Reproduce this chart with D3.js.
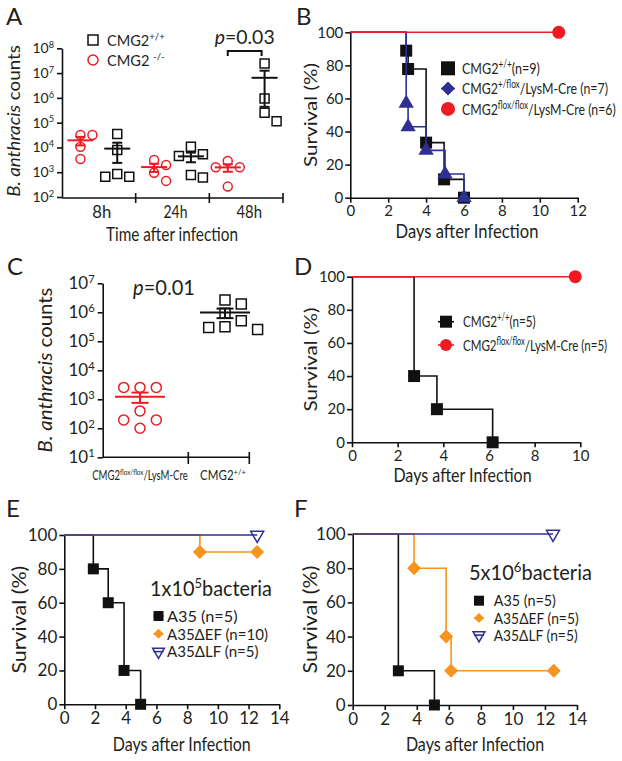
<!DOCTYPE html>
<html>
<head>
<meta charset="utf-8">
<script src="https://cdn.jsdelivr.net/npm/d3@7"></script>
<style>
  body { margin: 0; background: #fff; }
  svg text { font-family: Lato, "Liberation Sans", sans-serif; fill: #231f20; }
</style>
</head>
<body>
<svg id="fig" width="622" height="761"></svg>
<script>
// ---------- data ----------
// Panel A: bacterial counts per time point (CMG2-/- and CMG2+/+)
const timeLabels = ['8h', '24h', '48h'];
const aKoCounts = [[31600, 31600, 10700, 3390], [3090, 1950, 955, 447], [1590, 2820, 1590, 263]];
const aWtCounts = [[34700, 7940, 850, 660, 660], [5250, 10700, 4470, 617, 776], [24500000, 950000, 250000, 115000]];
const aLegend = ['CMG2^+/+^', 'CMG2 ^-/-^'];
const aTicks = [1e2, 1e3, 1e4, 1e5, 1e6, 1e7, 1e8];

// Panel C: counts per genotype
const cCategories = ['CMG2^flox/flox^/LysM-Cre', 'CMG2^+/+^'];
const cKoCounts = [2570, 2570, 2570, 398, 195, 195, 100];
const cWtCounts = [2630000, 1950000, 930000, 316000, 257000, 300000, 510000];
const cTicks = [1e1, 1e2, 1e3, 1e4, 1e5, 1e6, 1e7];

// Survival curves: days and % survival at each step
const survTicks = [0, 20, 40, 60, 80, 100];

const bLabels = ['CMG2^+/+^(n=9)', 'CMG2^+/flox^/LysM-Cre (n=7)', 'CMG2^flox/flox^/LysM-Cre (n=6)'];
const bWtDays = [0, 2.95, 3.05, 4, 4.95, 6];
const bWtSurv = [100, 88.9, 77.8, 33.3, 11.1, 0];
const bHetDays = [0, 2.95, 3.05, 4, 5, 6];
const bHetSurv = [100, 57.1, 42.9, 28.6, 14.3, 0];
const bKoDays = [0, 11];
const bKoSurv = [100, 100];

const dLabels = ['CMG2^+/+^(n=5)', 'CMG2^flox/flox^/LysM-Cre (n=5)'];
const dWtDays = [0, 2.72, 3.72, 6.16];
const dWtSurv = [100, 40, 20, 0];
const dKoDays = [0, 9.78];
const dKoSurv = [100, 100];

const eTitle = '1x10^5^bacteria';
const eLabels = ['A35 (n=5)', 'A35\u0394EF (n=10)', 'A35\u0394LF (n=5)'];
const eA35Days = [0, 1.89, 2.86, 3.89, 4.97];
const eA35Surv = [100, 80, 60, 20, 0];
const eEfDays = [0, 8.83, 12.56];
const eEfSurv = [100, 90, 90];
const eLfDays = [0, 12.56];
const eLfSurv = [100, 100];

const fTitle = '5x10^6^bacteria';
const fLabels = ['A35 (n=5)', 'A35\u0394EF (n=5)', 'A35\u0394LF (n=5)'];
const fA35Days = [0, 2.85, 5.1];
const fA35Surv = [100, 20, 0];
const fEfDays = [0, 3.83, 5.83, 6.14, 12.55];
const fEfSurv = [100, 80, 40, 20, 20];
const fLfDays = [0, 12.5];
const fLfSurv = [100, 100];

// ---------- styling ----------
const RED = '#ed1c24', BLUE = '#2e3192', ORANGE = '#f7941d', BLACK = '#111';

const svg = d3.select('#fig');
svg.append('rect').attr('width', 622).attr('height', 761).attr('fill', '#fff');

// ^..^ = superscript, *..* = italic
function rich(sel, str, size) {
  sel.text(null);
  const parts = str.split(/(\^[^^]*\^|\*[^*]*\*)/).filter(p => p);
  let raised = false;
  parts.forEach(p => {
    const t = sel.append('tspan');
    if (p[0] === '^') {
      t.text(p.slice(1, -1)).attr('font-size', size * 0.66).attr('dy', -size * 0.38);
      raised = true;
    } else {
      t.text(p[0] === '*' ? p.slice(1, -1) : p);
      if (p[0] === '*') t.attr('font-style', 'italic');
      if (raised) { t.attr('dy', size * 0.38); raised = false; }
    }
  });
  return sel;
}

// o.w = width the text should span (squeezes or stretches the glyphs horizontally)
function label(x, y, str, size, o = {}) {
  const t = svg.append('text')
    .attr('font-size', size)
    .attr('text-anchor', o.anchor || 'start');
  rich(t, str, size);
  let sx = 1;
  if (o.w) sx = o.w / t.node().getBBox().width;
  t.attr('transform', `translate(${x},${y})` + (o.rotate ? ' rotate(-90)' : '') + ` scale(${sx},1)`);
  return t;
}

function marker(g, shape, x, y, size, color) {
  const types = { square: d3.symbolSquare, circle: d3.symbolCircle, triangle: d3.symbolTriangle,
                  diamond: d3.symbolSquare, triangleDown: d3.symbolTriangle };
  const open = shape === 'triangleDown' || shape === 'openSquare' || shape === 'openCircle';
  const base = shape === 'openSquare' ? 'square' : shape === 'openCircle' ? 'circle' : shape;
  const area = base === 'circle' ? Math.PI * size * size / 4
             : base === 'square' ? size * size
             : base === 'diamond' ? size * size / 2
             : size * size * 0.6;
  const rot = shape === 'triangleDown' ? ' rotate(180)' : base === 'diamond' ? ' rotate(45)' : '';
  g.append('path')
    .attr('d', d3.symbol(types[base], area)())
    .attr('transform', `translate(${x},${y})` + rot)
    .attr('fill', open ? 'none' : color)
    .attr('stroke', color)
    .attr('stroke-width', open ? 1.5 : 0);
}

function styleAxis(sel, size) {
  sel.selectAll('path, line').attr('stroke', BLACK).attr('stroke-width', 1.6);
  sel.selectAll('text').attr('font-size', size).attr('fill', '#231f20');
}

// simple swarm layout so the dots of a group do not overlap
function swarm(values, cx, y, step, minDist) {
  const pts = values.map(v => ({ v, py: y(v) })).sort((a, b) => a.py - b.py);
  const placed = [];
  pts.forEach(p => {
    for (let k = 0; k < 30; k++) {
      const off = k === 0 ? 0 : (k % 2 ? 1 : -1) * Math.ceil(k / 2) * step;
      const px = cx + off;
      if (placed.every(q => Math.hypot(q.px - px, q.py - p.py) >= minDist)) {
        p.px = px; placed.push(p); break;
      }
    }
  });
  return placed;
}

function dotGroup(g, values, cx, y, o) {
  swarm(values, cx, y, o.step, o.minDist)
    .forEach(p => marker(g, o.shape, p.px, p.py, o.size, o.color));
  const m = d3.mean(values);
  const se = d3.deviation(values) / Math.sqrt(values.length);
  const lo = Math.max(m - se, y.domain()[0]);
  const hi = m + se;
  g.append('line').attr('x1', cx - o.meanW / 2).attr('x2', cx + o.meanW / 2)
    .attr('y1', y(m)).attr('y2', y(m)).attr('stroke', o.color).attr('stroke-width', 2);
  g.append('line').attr('x1', cx).attr('x2', cx).attr('y1', y(hi)).attr('y2', y(lo))
    .attr('stroke', o.color).attr('stroke-width', 2);
  [hi, lo].forEach(v => g.append('line')
    .attr('x1', cx - o.capW / 2).attr('x2', cx + o.capW / 2)
    .attr('y1', y(v)).attr('y2', y(v)).attr('stroke', o.color).attr('stroke-width', 2));
}

function logAxis(g, y, ticks, x0, size) {
  const ax = g.append('g').attr('transform', `translate(${x0},0)`)
    .call(d3.axisLeft(y).tickValues(ticks).tickSize(5).tickSizeOuter(0).tickPadding(3));
  styleAxis(ax, size);
  ax.selectAll('.tick text').each(function (d) {
    rich(d3.select(this), '10^' + Math.round(Math.log10(d)) + '^', size);
  });
}

// ---------- Panel A ----------
(function () {
  const g = svg.append('g');
  const y = d3.scaleLog().domain([1e2, 1e8]).range([197, 48.3]);
  const x = d3.scaleBand().domain(timeLabels).range([62, 283]);
  const inner = d3.scalePoint().domain(['ko', 'wt']).range([0, x.bandwidth()]).padding(0.5);

  logAxis(g, y, aTicks, 62, 14);
  // bottom axis with ticks between the time groups
  g.append('line').attr('x1', 62).attr('x2', 283).attr('y1', 198).attr('y2', 198)
    .attr('stroke', BLACK).attr('stroke-width', 1.6);
  const tickW = [19, 24, 25.5];
  timeLabels.forEach((t, i) => {
    g.append('line').attr('x1', x(t) + x.bandwidth()).attr('x2', x(t) + x.bandwidth())
      .attr('y1', 193).attr('y2', 203).attr('stroke', BLACK).attr('stroke-width', 1.6);
    label(x(t) + x.bandwidth() / 2 + 3, 218, t, 17.5, { anchor: 'middle', w: tickW[i] });
  });

  const opt = { step: 12, minDist: 10, size: 9, meanW: 26, capW: 10 };
  timeLabels.forEach((t, i) => {
    dotGroup(g, aKoCounts[i], x(t) + inner('ko'), y, { ...opt, shape: 'openCircle', color: RED });
    dotGroup(g, aWtCounts[i], x(t) + inner('wt'), y, { ...opt, shape: 'openSquare', color: BLACK });
  });

  // legend
  marker(g, 'openSquare', 93, 40, 10, BLACK);
  marker(g, 'openCircle', 93, 60, 10, RED);
  label(107, 46, aLegend[0], 15, { w: 58 });
  label(107, 66, aLegend[1], 15, { w: 58 });

  // p-value bracket over the 48h pair
  const bx1 = x('48h') + inner('ko'), bx2 = x('48h') + inner('wt') - 3;
  g.append('path').attr('d', `M${bx1},56V51H${bx2}V56`).attr('fill', 'none')
    .attr('stroke', BLACK).attr('stroke-width', 2);
  label((bx1 + bx2) / 2, 44, '*p*=0.03', 19, { anchor: 'middle', w: 60 });

  label(20, 121, '*B. anthracis* counts', 18, { anchor: 'middle', rotate: true, w: 152 });
  label(172, 241, 'Time after infection', 18.5, { anchor: 'middle', w: 132 });
  label(6, 25, 'A', 24);
})();

// ---------- Panel C ----------
(function () {
  const g = svg.append('g');
  const y = d3.scaleLog().domain([1e1, 1e7]).range([457.3, 283.3]);
  const x = d3.scalePoint().domain(cCategories).range([140, 225]);

  logAxis(g, y, cTicks, 102.7, 17);
  g.append('line').attr('x1', 102.7).attr('x2', 249.3).attr('y1', 457.3).attr('y2', 457.3)
    .attr('stroke', BLACK).attr('stroke-width', 1.6);
  [188.3, 249.3].forEach(tx => g.append('line').attr('x1', tx).attr('x2', tx)
    .attr('y1', 452).attr('y2', 464).attr('stroke', BLACK).attr('stroke-width', 1.6));
  label(x(cCategories[0]), 480, cCategories[0], 12.5, { anchor: 'middle', w: 96 });
  label(x(cCategories[1]) - 2, 480, cCategories[1], 12.5, { anchor: 'middle', w: 46 });

  const opt = { step: 16.3, minDist: 11, size: 10, meanW: 50, capW: 17 };
  dotGroup(g, cKoCounts, x(cCategories[0]), y, { ...opt, shape: 'openCircle', color: RED });
  dotGroup(g, cWtCounts, x(cCategories[1]), y, { ...opt, shape: 'openSquare', color: BLACK });

  label(164, 295, '*p*=0.01', 21, { anchor: 'middle', w: 62 });
  label(52, 370, '*B. anthracis* counts', 19.5, { anchor: 'middle', rotate: true, w: 165 });
  label(7, 275, 'C', 24);
})();

// ---------- survival panels ----------
function survivalPanel(o) {
  const g = svg.append('g');
  const x = d3.scaleLinear().domain([0, o.xMax]).range(o.xRange);
  const y = d3.scaleLinear().domain([0, 100]).range(o.yRange);

  const ya = g.append('g').attr('transform', `translate(${o.xRange[0]},0)`)
    .call(d3.axisLeft(y).tickValues(survTicks).tickSize(5).tickSizeOuter(0).tickPadding(2));
  styleAxis(ya, o.tickSize);
  const xa = g.append('g').attr('transform', `translate(0,${o.yRange[0]})`)
    .call(d3.axisBottom(x).tickValues(d3.range(0, o.xMax + 1, 2)).tickSize(5).tickSizeOuter(0).tickPadding(3));
  styleAxis(xa, o.tickSize);

  const line = d3.line().curve(d3.curveStepAfter).x(d => x(d[0])).y(d => y(d[1]));
  o.series.forEach(s => {
    const pts = s.days.map((d, i) => [d, s.surv[i]]);
    g.append('path').attr('d', line(pts)).attr('fill', 'none')
      .attr('stroke', s.color).attr('stroke-width', 1.6);
    pts.slice(1).forEach(p => marker(g, s.shape, x(p[0]), y(p[1]), s.size, s.color));
  });

  // legend
  const L = o.legend;
  if (L.title) label(L.titleX, L.titleY, L.title, L.titleSize, { w: L.titleW });
  o.series.forEach((s, i) => {
    const ly = L.y0 + i * L.dy;
    g.append('line').attr('x1', L.x - L.stub).attr('x2', L.x + L.stub).attr('y1', ly).attr('y2', ly)
      .attr('stroke', s.color).attr('stroke-width', 1.6);
    marker(g, s.legendShape || s.shape, L.x, ly, L.size, s.color);
    label(L.textX, ly + L.fontSize * 0.36, L.labels[i], L.fontSize, { w: L.widths[i] });
  });

  label(o.yTitleX, (o.yRange[0] + o.yRange[1]) / 2, 'Survival (%)', o.yTitleSize,
    { anchor: 'middle', rotate: true, w: o.yTitleW });
  label(o.xTitleX, o.xTitleY, 'Days after Infection', o.xTitleSize, { anchor: 'middle', w: o.xTitleW });
  label(o.letterX, o.letterY, o.letter, 24);
}

survivalPanel({
  letter: 'B', letterX: 296, letterY: 25,
  xMax: 12, xRange: [350.3, 577.7], yRange: [197.7, 32.3], tickSize: 15,
  series: [
    { days: bWtDays, surv: bWtSurv, color: BLACK, shape: 'square', size: 12 },
    { days: bHetDays, surv: bHetSurv, color: BLUE, shape: 'triangle', legendShape: 'diamond', size: 13 },
    { days: bKoDays, surv: bKoSurv, color: RED, shape: 'circle', size: 13 }
  ],
  legend: { x: 448, y0: 68.3, dy: 20.3, textX: 462, size: 14, stub: 7, fontSize: 16,
            labels: bLabels, widths: [78, 146, 154] },
  yTitleX: 317, yTitleSize: 18, yTitleW: 104,
  xTitleX: 467, xTitleY: 238, xTitleSize: 18.5, xTitleW: 143
});

survivalPanel({
  letter: 'D', letterX: 294, letterY: 275,
  xMax: 10, xRange: [352, 580.3], yRange: [442.3, 276.7], tickSize: 15,
  series: [
    { days: dWtDays, surv: dWtSurv, color: BLACK, shape: 'square', size: 12 },
    { days: dKoDays, surv: dKoSurv, color: RED, shape: 'circle', size: 13 }
  ],
  legend: { x: 446, y0: 321.7, dy: 23.3, textX: 463, size: 12, stub: 8, fontSize: 16,
            labels: dLabels, widths: [72.7, 144.3] },
  yTitleX: 317, yTitleSize: 18, yTitleW: 104,
  xTitleX: 462.5, xTitleY: 482, xTitleSize: 18.5, xTitleW: 138.3
});

survivalPanel({
  letter: 'E', letterX: 6, letterY: 517,
  xMax: 14, xRange: [64.3, 279.3], yRange: [704.3, 535], tickSize: 17,
  series: [
    { days: eA35Days, surv: eA35Surv, color: BLACK, shape: 'square', size: 11 },
    { days: eEfDays, surv: eEfSurv, color: ORANGE, shape: 'diamond', size: 14 },
    { days: eLfDays, surv: eLfSurv, color: BLUE, shape: 'triangleDown', size: 11 }
  ],
  legend: { title: eTitle, titleX: 150, titleY: 596, titleSize: 21, titleW: 122,
            x: 158.5, y0: 616, dy: 17.8, textX: 167, size: 10, stub: 5, fontSize: 16,
            labels: eLabels, widths: [70.7, 101, 91.7] },
  yTitleX: 26, yTitleSize: 20, yTitleW: 108,
  xTitleX: 181.7, xTitleY: 751, xTitleSize: 18.5, xTitleW: 138
});

survivalPanel({
  letter: 'F', letterX: 294, letterY: 517,
  xMax: 14, xRange: [352.7, 577], yRange: [705, 534], tickSize: 17,
  series: [
    { days: fA35Days, surv: fA35Surv, color: BLACK, shape: 'square', size: 11 },
    { days: fEfDays, surv: fEfSurv, color: ORANGE, shape: 'diamond', size: 14 },
    { days: fLfDays, surv: fLfSurv, color: BLUE, shape: 'triangleDown', size: 11 }
  ],
  legend: { title: fTitle, titleX: 469, titleY: 580, titleSize: 21, titleW: 123,
            x: 479, y0: 600.7, dy: 17.2, textX: 493.7, size: 10, stub: 5, fontSize: 16,
            labels: fLabels, widths: [62.3, 85, 84] },
  yTitleX: 317, yTitleSize: 20, yTitleW: 108,
  xTitleX: 475, xTitleY: 751, xTitleSize: 18.5, xTitleW: 138.3
});
</script>
</body>
</html>
